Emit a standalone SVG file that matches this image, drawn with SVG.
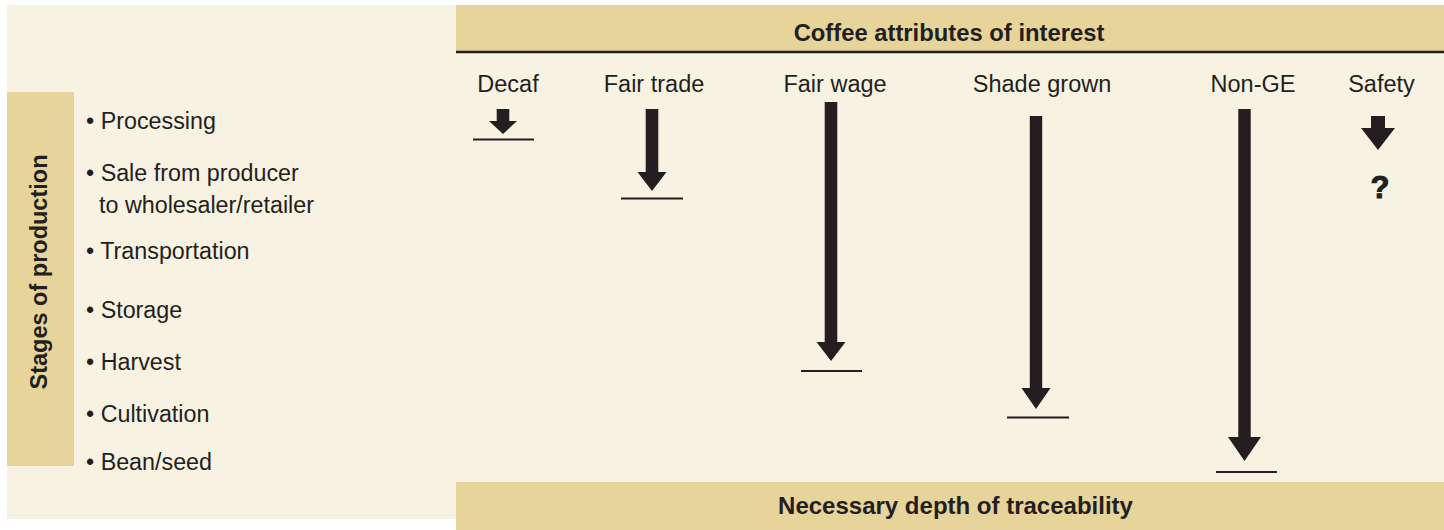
<svg xmlns="http://www.w3.org/2000/svg" width="1444" height="530" viewBox="0 0 1444 530">
<style>
.bg{fill:#F8F2E2}
.tan{fill:#E6D49A}
.hd{font-family:"Liberation Sans",Arial,sans-serif;font-weight:bold;font-size:23.8px;fill:#231F20}
.lbl{font-family:"Liberation Sans",Arial,sans-serif;font-size:23.5px;fill:#231F20}
.li{font-family:"Liberation Sans",Arial,sans-serif;font-size:23.3px;fill:#231F20}
.arr{fill:#231F20}
.bar{stroke:#231F20;stroke-width:2}
</style>
<rect x="0" y="0" width="1444" height="530" fill="#FFFFFF"/>
<rect class="bg" x="7" y="5" width="1437" height="514"/>
<g id="header">
<rect class="tan" x="456" y="5" width="988" height="47"/>
<line x1="456" y1="52" x2="1444" y2="52" stroke="#231F20" stroke-width="2.5"/>
<text class="hd" x="949" y="41" text-anchor="middle">Coffee attributes of interest</text>
</g>
<g id="footer">
<rect class="tan" x="456" y="482" width="988" height="48"/>
<text class="hd" x="955.5" y="514" text-anchor="middle" style="font-size:24px">Necessary depth of traceability</text>
</g>
<g id="stages">
<rect class="tan" x="7" y="92" width="67" height="374"/>
<text class="hd" transform="translate(46.5,272) rotate(-90)" text-anchor="middle" style="font-size:23.5px">Stages of production</text>
</g>
<g id="stage-list">
<text class="li" x="86" y="129">• Processing</text>
<text class="li" x="86" y="181">• Sale from producer</text>
<text class="li" x="99" y="213">to wholesaler/retailer</text>
<text class="li" x="86" y="259">• Transportation</text>
<text class="li" x="86" y="318">• Storage</text>
<text class="li" x="86" y="370">• Harvest</text>
<text class="li" x="86" y="422">• Cultivation</text>
<text class="li" x="86" y="470">• Bean/seed</text>
</g>
<g id="attr-decaf"><text class="lbl" x="508" y="92" text-anchor="middle">Decaf</text></g>
<g id="attr-fairtrade"><text class="lbl" x="654" y="92" text-anchor="middle">Fair trade</text></g>
<g id="attr-fairwage"><text class="lbl" x="835" y="92" text-anchor="middle">Fair wage</text></g>
<g id="attr-shade"><text class="lbl" x="1042" y="92" text-anchor="middle">Shade grown</text></g>
<g id="attr-nonge"><text class="lbl" x="1253" y="92" text-anchor="middle">Non-GE</text></g>
<g id="attr-safety">
<text class="lbl" x="1381.5" y="92" text-anchor="middle">Safety</text>
<text class="hd" x="1380" y="198" text-anchor="middle" style="font-size:31px;font-weight:900;stroke:#231F20;stroke-width:1">?</text>
</g>
<g id="connectors">
<polygon class="arr" points="496.7,109 509.3,109 509.3,121 517,121 503,134 489,121 496.7,121"/>
<line class="bar" x1="473" y1="139.5" x2="534" y2="139.5"/>
<polygon class="arr" points="645.7,109 658.3,109 658.3,172 666.5,172 652,191 637.5,172 645.7,172"/>
<line class="bar" x1="621" y1="198.5" x2="683" y2="198.5"/>
<polygon class="arr" points="824.7,102 837.3,102 837.3,342 845.5,342 831,361 816.5,342 824.7,342"/>
<line class="bar" x1="801" y1="371" x2="862" y2="371"/>
<polygon class="arr" points="1029.8,116 1042.2,116 1042.2,388 1050.5,388 1036,409 1021.5,388 1029.8,388"/>
<line class="bar" x1="1007" y1="417.5" x2="1069" y2="417.5"/>
<polygon class="arr" points="1238.3,109 1250.7,109 1250.7,437 1261,437 1244.5,461 1228,437 1238.3,437"/>
<line class="bar" x1="1216" y1="472" x2="1277" y2="472"/>
<polygon class="arr" points="1371,116 1385,116 1385,128 1395,128 1378,150 1361,128 1371,128"/>
</g>
</svg>
